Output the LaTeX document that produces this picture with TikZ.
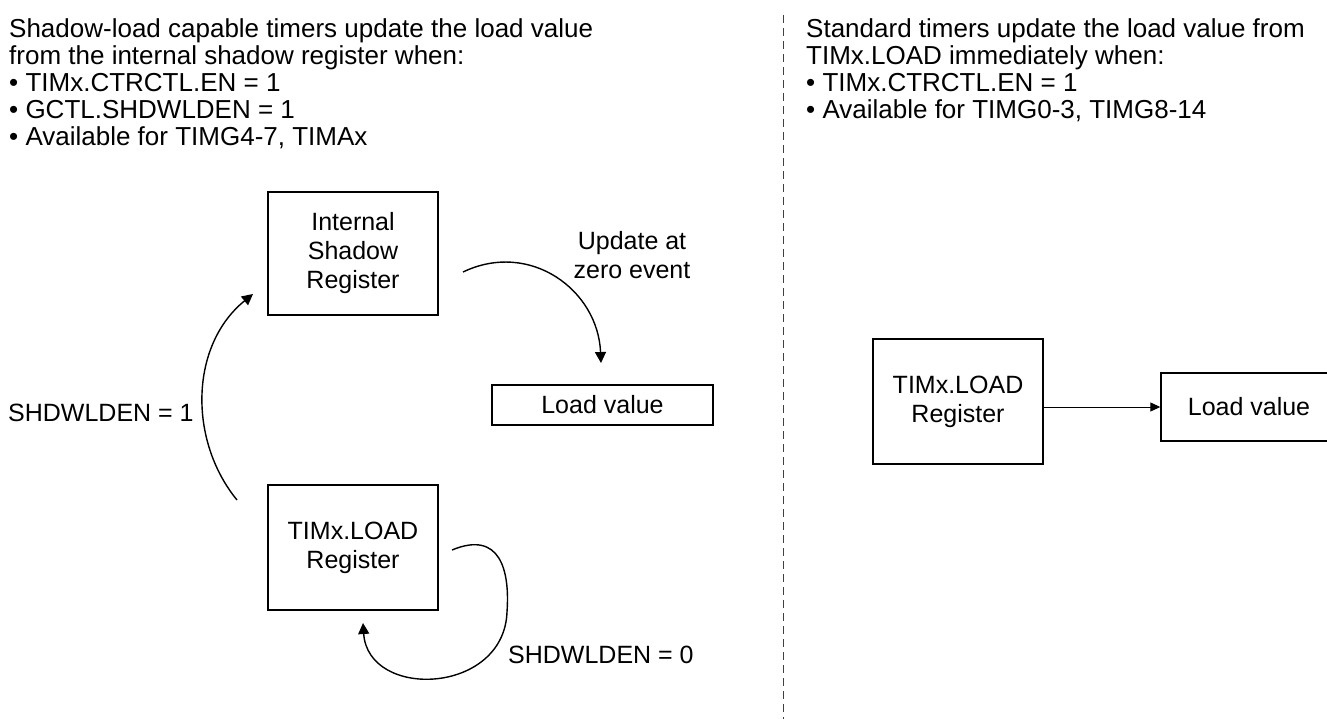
\documentclass[tikz,border=0pt]{standalone}
\usepackage{fontspec}
\setmainfont{Liberation Sans}
\usetikzlibrary{arrows.meta,calc}
\begin{document}
\begin{tikzpicture}[x=1pt,y=-1pt,
  txt/.style={font=\fontsize{25}{29}\selectfont},
  ptxt/.style={font=\fontsize{26}{27}\selectfont},
  box/.style={draw,line width=1.4pt,align=center,inner sep=0pt,txt},
  conn/.style={line width=1.4pt,-{Triangle[length=11pt,width=11pt]}},
  thinconn/.style={line width=1pt,-{Triangle[length=10pt,width=9pt]}},
  para/.style={ptxt,align=left,inner sep=0pt,anchor=north west},
  sep/.style={line width=0.9pt,draw=black!75,dash pattern=on 8pt off 5pt}]
\useasboundingbox (0,0) rectangle (1327,719);
% texts
\node[para] (lt) at (9,18) {Shadow-load capable timers update the load value\\
from the internal shadow register when:\\
\textbullet\ TIMx.CTRCTL.EN = 1\\
\textbullet\ GCTL.SHDWLDEN = 1\\
\textbullet\ Available for TIMG4-7, TIMAx};
\node[para] (rt) at (806,18) {Standard timers update the load value from\\
TIMx.LOAD immediately when:\\
\textbullet\ TIMx.CTRCTL.EN = 1\\
\textbullet\ Available for TIMG0-3, TIMG8-14};
% separator
\coordinate (dtop) at (783,15);
\coordinate (dbot) at (783,719);
\draw[sep] (dtop) -- (dbot);
% left boxes
\node[box,minimum width=170pt,minimum height=123pt] (isr) at (353,253.5) {Internal\\Shadow\\Register};
\node[box,minimum width=170pt,minimum height=125pt] (ldl) at (353,547.5) {TIMx.LOAD\\Register};
\node[box,minimum width=221pt,minimum height=40pt] (lv1) at (602.5,405) {Load value};
% right boxes
\node[box,minimum width=170pt,minimum height=125pt] (ldr) at (958,401.5) {TIMx.LOAD\\Register};
\node[box,minimum width=176pt,minimum height=68pt] (lv2) at (1249,407) {Load value};
% labels
\node[txt,align=center,inner sep=0pt] (upd) at (632,255) {Update at\\zero event};
\node[txt,anchor=west,inner sep=0pt] (s1) at (8,413) {SHDWLDEN = 1};
\node[txt,anchor=west,inner sep=0pt] (s0) at (508,655) {SHDWLDEN = 0};
% connector end points
\coordinate (u0) at (463,272);
\coordinate (u1) at (601,363);
\coordinate (a0) at (237,500);
\coordinate (a1) at (253,294);
\coordinate (l0) at (452,550);
\coordinate (l1) at (507,612);
\coordinate (l2) at (363,623);
% connectors
\draw[conn] (u0) .. controls (530,240) and (598,290) .. (u1);
\draw[conn] (a0) .. controls (188,440) and (190,345) .. (a1);
\draw[conn] (l0) .. controls (500,530) and (510,570) .. (l1)
  .. controls (504,695) and (368,700) .. (l2);
\draw[thinconn] (ldr.east |- lv2.west) -- (lv2.west);
\end{tikzpicture}
\end{document}
